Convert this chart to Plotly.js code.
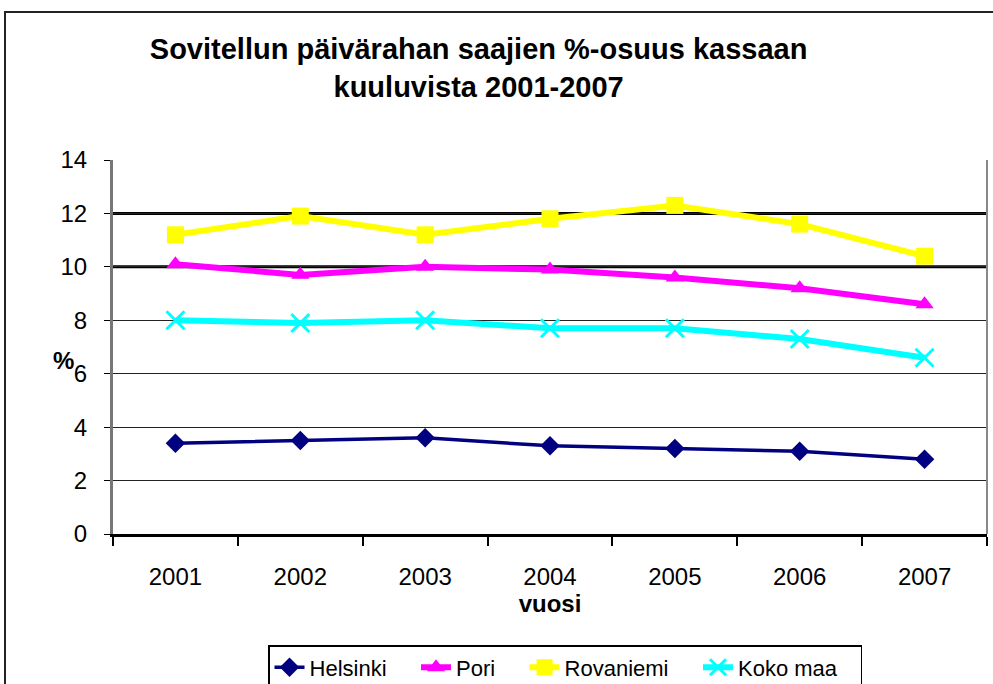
<!DOCTYPE html>
<html>
<head>
<meta charset="utf-8">
<script src="https://cdn.plot.ly/plotly-3.0.1.min.js"></script>
<style>
  body { margin: 0; overflow: hidden; background: #fff; }
  #chart { width: 993px; height: 684px; }
  #frame { position: absolute; left: 4px; top: 11px; width: 1100px; height: 800px;
           border: 2px solid #222; pointer-events: none; }
</style>
</head>
<body>
<div id="chart"></div>
<div id="frame"></div>
<script>
const years = ['2001', '2002', '2003', '2004', '2005', '2006', '2007'];
const helsinki = [3.4, 3.5, 3.6, 3.3, 3.2, 3.1, 2.8];
const pori = [10.1, 9.7, 10.0, 9.9, 9.6, 9.2, 8.6];
const rovaniemi = [11.2, 11.9, 11.2, 11.8, 12.3, 11.6, 10.4];
const kokoMaa = [8.0, 7.9, 8.0, 7.7, 7.7, 7.3, 6.6];
const yTicks = [0, 2, 4, 6, 8, 10, 12, 14];
const boldGrid = [10, 12];

// trailing spaces widen the legend entries, like the original
const traces = [
    {
        x: years, y: helsinki, name: 'Helsinki    ', mode: 'lines+markers',
        line: { color: '#000080', width: 3.5 },
        marker: { symbol: 'diamond', size: 15, color: '#000080' },
    },
    {
        x: years, y: pori, name: 'Pori    ', mode: 'lines+markers',
        line: { color: '#ff00ff', width: 6 },
        marker: { symbol: 'triangle-up', size: 16, color: '#ff00ff' },
    },
    {
        x: years, y: rovaniemi, name: 'Rovaniemi    ', mode: 'lines+markers',
        line: { color: '#ffff00', width: 6 },
        marker: { symbol: 'square', size: 17, color: '#ffff00' },
    },
    {
        x: years, y: kokoMaa, name: 'Koko maa   ', mode: 'lines+markers',
        line: { color: '#00ffff', width: 6 },
        marker: { symbol: 'x-thin', size: 18, line: { color: '#00ffff', width: 3 } },
    },
];

// thicker black gridlines at 10 and 12
const shapes = boldGrid.map(v => ({
    type: 'line', xref: 'paper', x0: 0, x1: 1, yref: 'y', y0: v, y1: v,
    line: { color: '#000', width: 3 }, layer: 'below',
}));
// right edge of plot area
shapes.push({
    type: 'line', xref: 'paper', x0: 1, x1: 1, yref: 'paper', y0: 0, y1: 1,
    line: { color: '#888', width: 2 },
});

Plotly.newPlot('chart', traces, {
    width: 993, height: 684,
    margin: { l: 113, r: 6, t: 160, b: 150 },
    font: { family: 'Liberation Sans, Arial, sans-serif', color: '#000' },
    title: {
        text: '<b>Sovitellun päivärahan saajien %-osuus kassaan<br>kuuluvista 2001-2007</b>',
        font: { size: 29 }, x: 0.482, xanchor: 'center', y: 0.914, yanchor: 'top',
    },
    xaxis: {
        type: 'category',
        tickfont: { size: 24 },
        showgrid: false,
        showline: true, linecolor: '#000', linewidth: 3,
        ticks: 'outside', tickson: 'boundaries', ticklen: 9, tickwidth: 2, tickcolor: '#000',
        ticklabelstandoff: 19,
        title: { text: '<b>vuosi</b>', font: { size: 24 }, standoff: 6 },
        range: [-0.5, 6.5],
        automargin: false,
    },
    yaxis: {
        range: [0, 14], tickvals: yTicks,
        tickfont: { size: 24 },
        showgrid: true, gridcolor: '#222', gridwidth: 1,
        showline: true, linecolor: '#777', linewidth: 3,
        ticks: 'outside', ticklen: 6, tickcolor: '#000',
        ticklabelstandoff: 12,
        zeroline: false,
        automargin: false,
    },
    annotations: [{
        text: '<b>%</b>', xref: 'paper', yref: 'paper', x: -0.042, y: 0.465,
        showarrow: false, font: { size: 24 }, xanchor: 'right',
    }],
    shapes: shapes,
    showlegend: true,
    legend: {
        orientation: 'h', xref: 'container', yref: 'container',
        x: 0.569, xanchor: 'center', y: 0.057, yanchor: 'top',
        bordercolor: '#000', borderwidth: 1.5, font: { size: 22 },
        traceorder: 'normal',
    },
    paper_bgcolor: '#fff',
    plot_bgcolor: '#fff',
}, { staticPlot: true });
</script>
</body>
</html>
